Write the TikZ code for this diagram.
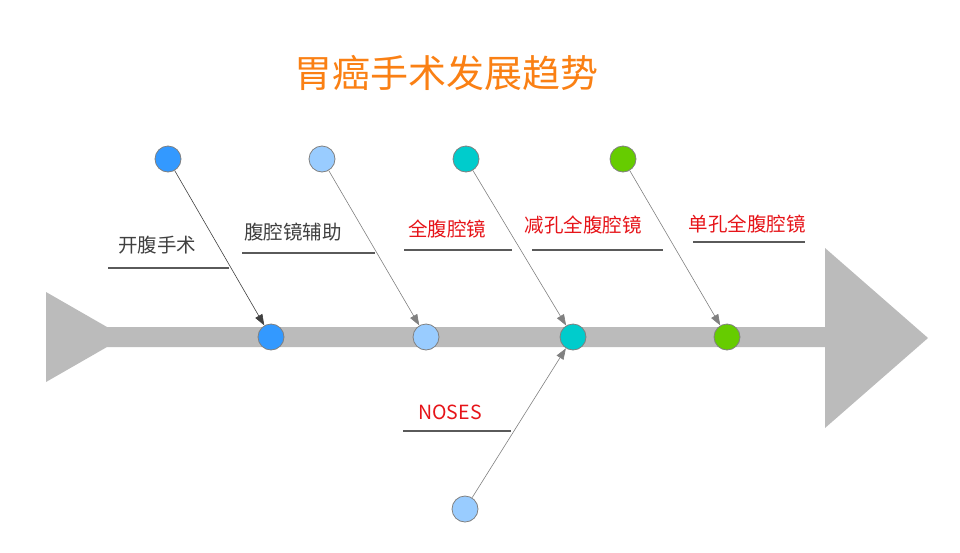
\documentclass[tikz,border=0pt]{standalone}
\usepackage{fontspec}
\setmainfont{Noto Sans CJK SC}
\usepackage{xcolor}
\usetikzlibrary{arrows.meta, positioning}
\definecolor{spinegray}{RGB}{187,187,187}
\definecolor{dotblue}{RGB}{51,153,255}
\definecolor{dotlight}{RGB}{153,204,255}
\definecolor{dotteal}{RGB}{0,204,204}
\definecolor{dotgreen}{RGB}{102,204,0}
\definecolor{titleorange}{RGB}{250,128,20}
\definecolor{labelred}{RGB}{230,20,25}
\definecolor{labeldark}{RGB}{64,64,64}
\definecolor{rulegray}{RGB}{90,90,90}

\begin{document}
\begin{tikzpicture}[
  x=1pt, y=-1pt,
  dot/.style={circle, draw=gray, line width=0.8pt,
    minimum size=26pt, inner sep=0pt},
  stage/.style={font=\fontsize{19.5}{22}\selectfont, inner sep=0pt},
  uline/.style={rulegray, line width=1.6pt},
  arrow/.style={-{Triangle[length=11pt,width=8pt]}, line width=0.6pt}
]
\useasboundingbox (0,0) rectangle (960,552);

% Spine
\fill[spinegray] (46,292) -- (107,327) -- (825,327) -- (825,248)
  -- (928,338) -- (825,428) -- (825,347) -- (107,347)
  -- (46,382) -- cycle;

% Title
\node[font=\fontsize{38}{42}\selectfont, text=titleorange] (title)
  at (446,73) {胃癌手术发展趋势};

% Upper dots
\node[dot, fill=dotblue]  (t1) at (168,159) {};
\node[dot, fill=dotlight] (t2) at (322,159) {};
\node[dot, fill=dotteal]  (t3) at (466,159) {};
\node[dot, fill=dotgreen] (t4) at (623,159) {};

% Dots on the spine
\node[dot, fill=dotblue]  (b1) at (271,337) {};
\node[dot, fill=dotlight] (b2) at (426,337) {};
\node[dot, fill=dotteal]  (b3) at (573,337) {};
\node[dot, fill=dotgreen] (b4) at (727,337) {};

% Lower dot
\node[dot, fill=dotlight] (n0) at (465,509) {};

% Arrows
\draw[arrow, labeldark] (t1) -- (b1);
\draw[arrow, gray] (t2) -- (b2);
\draw[arrow, gray] (t3) -- (b3);
\draw[arrow, gray] (t4) -- (b4);
\draw[arrow, gray] (n0) -- (b3);

% Stage labels
\node[stage, text=labeldark] (s1) at (157,245) {开腹手术};
\draw[uline] (108,268) -- (229,268);

\node[stage, text=labeldark] (s2) at (293,232) {腹腔镜辅助};
\draw[uline] (242,253) -- (375,253);

\node[stage, text=labelred] (s3) at (447,229) {全腹腔镜};
\draw[uline] (404,250) -- (512,250);

\node[stage, text=labelred] (s4) at (583,225) {减孔全腹腔镜};
\draw[uline] (532,250) -- (663,250);

\node[stage, text=labelred] (s5) at (747,224) {单孔全腹腔镜};
\draw[uline] (693,242) -- (805,242);

\node[stage, text=labelred] (s6) at (450,412) {NOSES};
\draw[uline] (403,431) -- (511,431);
\end{tikzpicture}
\end{document}
